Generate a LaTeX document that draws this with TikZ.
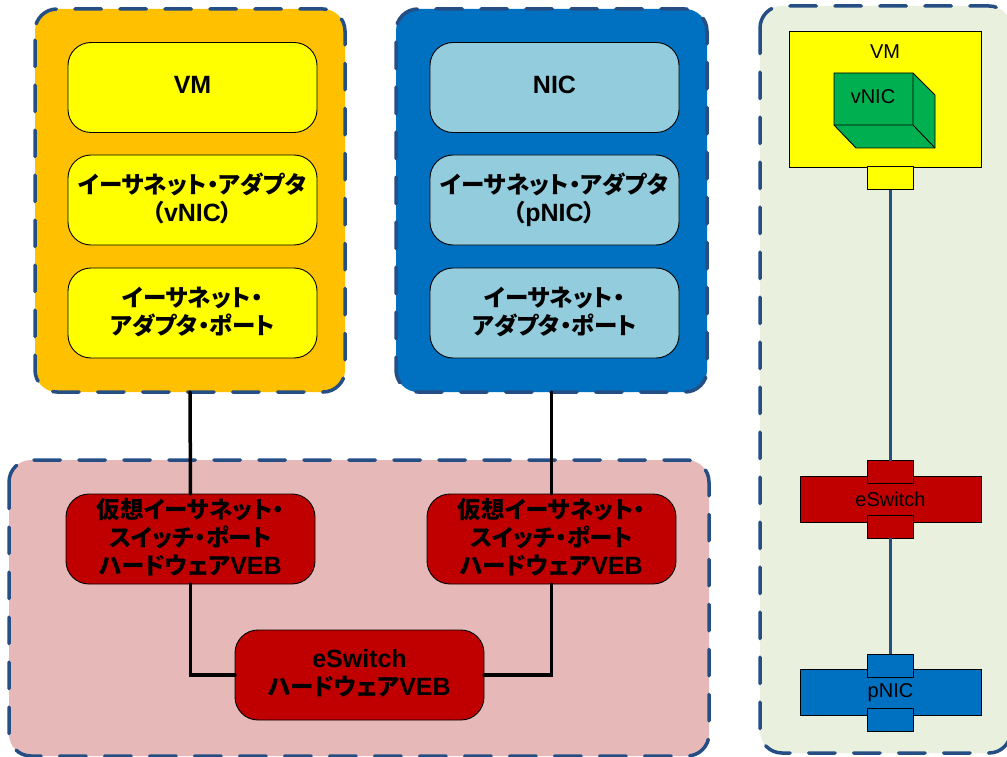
\documentclass[tikz,border=0pt]{standalone}
\usepackage{xcolor}
\usepackage{fontspec}
\setmainfont{Liberation Sans}
\newfontfamily\cjk[RawFeature=+palt, Scale=0.94]{Noto Sans CJK JP}
\newcommand{\jp}[1]{{\cjk #1}}

\tikzset{
    panel/.style={inner sep=0pt, outer sep=0pt, rounded corners=22pt},
    dashline/.style={draw=DashBlue, line width=3.5pt, line cap=round, dash pattern=on 26.5pt off 18.5pt, rounded corners=22pt},
    card/.style={draw=black, line width=0.9pt, rounded corners=23pt, minimum width=249pt, minimum height=90pt, inner sep=0pt, outer sep=0pt, align=center, font=\bfseries\fontsize{25}{28}\selectfont, execute at end node={\rule[-5pt]{0pt}{5pt}}},
    block/.style={draw=black, line width=0.9pt, inner sep=0pt, outer sep=0pt, font=\fontsize{20}{24}\selectfont},
    port/.style={block, minimum width=46pt, minimum height=23pt},
    wide/.style={block, minimum width=181pt, minimum height=46pt},
    wire/.style={line width=3.5pt, line cap=round},
    link/.style={draw=DashBlue, line width=3pt}
}

\begin{document}
\begin{tikzpicture}[x=1pt, y=-1pt]
    \definecolor{DashBlue}{HTML}{254E85}
    \definecolor{VmOrange}{HTML}{FFC000}
    \definecolor{VmYellow}{HTML}{FFFF00}
    \definecolor{NicBlue}{HTML}{0070C0}
    \definecolor{NicPale}{HTML}{93CDDD}
    \definecolor{VebRed}{HTML}{C00000}
    \definecolor{VebPink}{HTML}{E6B9B8}
    \definecolor{SidePale}{HTML}{EAF0DE}
    \definecolor{CubeGreen}{HTML}{00B050}
    \useasboundingbox (0,0) rectangle (1007,757);

    \node[panel, fill=VmOrange, minimum width=310pt, minimum height=383pt] (vmpanel) at (190,200.5) {};
    \node[panel, fill=NicBlue, minimum width=311pt, minimum height=383pt] (nicpanel) at (551.5,200.5) {};
    \node[panel, fill=VebPink, minimum width=700pt, minimum height=296pt] (vebpanel) at (359,608) {};
    \node[panel, fill=SidePale, minimum width=251pt, minimum height=747pt] (sidepanel) at (885.5,379.5) {};
    \foreach \panelname/\panelphase in {vmpanel/37.65, nicpanel/37.65, vebpanel/7.65, sidepanel/2.65}{
        \draw[dashline, dash phase=\panelphase pt] ([yshift=-22pt]\panelname.north west) -- (\panelname.north west) -- (\panelname.north east) -- (\panelname.south east) -- (\panelname.south west) -- ([yshift=-22pt]\panelname.north west);
    }

    \node[card, fill=VmYellow] (vm) at (192.5,87.5) {VM};
    \node[card, fill=VmYellow] (vnic) at (192.5,200) {\jp{イーサネット・アダプタ}\\\jp{（}vNIC\jp{）}};
    \node[card, fill=VmYellow] (vmport) at (192.5,313) {\jp{イーサネット・}\\\jp{アダプタ・ポート}};
    \node[card, fill=NicPale] (nic) at (554.5,87.5) {NIC};
    \node[card, fill=NicPale] (pnic) at (554.5,200) {\jp{イーサネット・アダプタ}\\\jp{（}pNIC\jp{）}};
    \node[card, fill=NicPale] (nicport) at (554.5,313) {\jp{イーサネット・}\\\jp{アダプタ・ポート}};

    \node[card, fill=VebRed] (leftveb) at (190.5,539) {\jp{仮想イーサネット・}\\\jp{スイッチ・ポート}\\\jp{ハードウェア}VEB};
    \node[card, fill=VebRed] (rightveb) at (551.5,539) {\jp{仮想イーサネット・}\\\jp{スイッチ・ポート}\\\jp{ハードウェア}VEB};
    \node[card, fill=VebRed] (eswitch) at (359.5,675) {eSwitch\\\jp{ハードウェア}VEB};

    \draw[wire] (vmpanel.south) -- (leftveb.north);
    \draw[wire] (nicpanel.south) -- (rightveb.north);
    \draw[wire] (leftveb.south) |- (eswitch.west);
    \draw[wire] (rightveb.south) |- (eswitch.east);

    \node[block, fill=VmYellow, minimum width=192pt, minimum height=136pt] (sidevm) at (885,99) {};
    \node[font=\fontsize{20}{24}\selectfont] (sidevmlabel) at (885,52) {VM};
    \coordinate (A) at (834,73);
    \coordinate (B) at (913,73);
    \coordinate (C) at (935,95);
    \coordinate (D) at (935,148);
    \coordinate (E) at (856,148);
    \coordinate (F) at (834,125);
    \coordinate (G) at (913,125);
    \draw[fill=CubeGreen, line width=0.9pt, line join=round] (A) -- (B) -- (C) -- (D) -- (E) -- (F) -- cycle;
    \draw[line width=0.9pt] (F) -- (G) -- (B) (G) -- (D);
    \node[font=\fontsize{20}{24}\selectfont] (cubelabel) at (873,97) {vNIC};
    \node[port, fill=VmYellow] (sidevmport) at (890,178) {};

    \node[wide, fill=VebRed] (sideswitch) at (890.5,499) {eSwitch};
    \node[port, fill=VebRed] (switchtop) at (890,472) {};
    \node[port, fill=VebRed] (switchbottom) at (890,526.5) {};

    \node[wide, fill=NicBlue] (sidepnic) at (890.5,692.5) {pNIC};
    \node[port, fill=NicBlue] (pnictop) at (890,665.5) {};
    \node[port, fill=NicBlue] (pnicbottom) at (890,720) {};

    \draw[link] (sidevmport) -- (switchtop);
    \draw[link] (switchbottom) -- (pnictop);
\end{tikzpicture}
\end{document}
